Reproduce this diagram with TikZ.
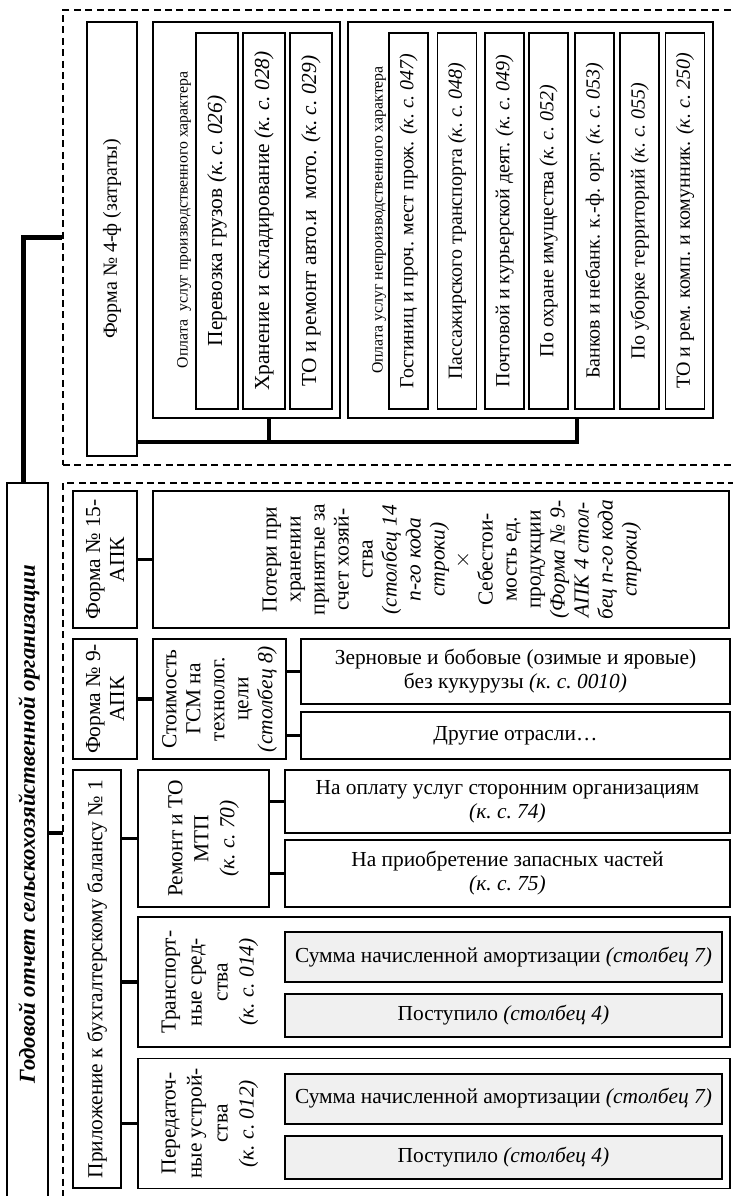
\documentclass[tikz,border=0pt]{standalone}
\usepackage{fontspec}
\setmainfont{Liberation Serif}
\newcommand{\kcode}[1]{\textit{(к.~с.~#1)}}
\tikzset{
  box/.style={draw, line width=0.65pt, align=center, inner sep=1pt, font=\fontsize{10.7}{12}\selectfont},
  vbox/.style={box, rotate=90},
  greybox/.style={box, fill=black!6, line width=1pt},
  groupbox/.style={draw, dash pattern=on 3.5pt off 2.2pt, line width=0.6pt},
  lbl/.style={rotate=90, inner sep=0pt, font=\fontsize{7.9}{9}\selectfont},
  narrow/.style={font=\fontsize{10}{12}\selectfont},
  wide/.style={font=\fontsize{10.7}{13}\selectfont},
  link/.style={line width=1.8pt},
  trunk/.style={line width=2.5pt},
}
\begin{document}
\begin{tikzpicture}[x=0.5pt, y=-0.5pt]
    \clip (0,0) rectangle (733,1196);
    % dashed groups
    \node[groupbox, minimum width=341pt, minimum height=227.5pt] (topgrp) at (404,237.5) {};
    \node[groupbox, minimum width=341pt, minimum height=361pt] (lowgrp) at (404,844) {};
    % main report
    \node[vbox, minimum width=363.5pt, minimum height=20.5pt] (main) at (27.5,846.5) {};
    \node[rotate=90, font=\fontsize{11.4}{13}\selectfont\bfseries\itshape] (title) at (29,824)
        {Годовой отчет сельскохозяйственной организации};
    \coordinate (bend) at (23,237.5);
    \draw[trunk] (bend |- main.east) -- (bend) -- (topgrp.west);
    \coordinate (lowjoin) at (63,833);
    \draw[link] (main.south |- lowjoin) -- (lowjoin);

    % form 4-f
    \node[vbox, narrow, minimum width=217pt, minimum height=25pt] (f4) at (112,239) {Форма № 4-ф (затраты)};
    \node[vbox, minimum width=198pt, minimum height=93.5pt, line width=0.8pt] (prod) at (246.5,220) {};
    \node[lbl] (prodlbl) at (184,220) {Оплата~~услуг производственного характера};
    \foreach \cx/\txt [count=\k] in {
        217/{Перевозка грузов \kcode{026}},
        264/{Хранение и складирование \kcode{028}},
        311/{ТО и ремонт авто.и~~мото. \kcode{029}}}
    {
        \node[vbox, minimum width=188pt, minimum height=21pt] (p\k) at (\cx,221) {\txt};
    }
    \node[vbox, minimum width=198pt, minimum height=182.5pt, line width=0.8pt] (nonprod) at (530.5,220) {};
    \node[lbl] (nonprodlbl) at (379,220) {Оплата услуг непроизводственного характера};
    \foreach \cx/\txt [count=\k] in {
        408.5/{Гостиниц и проч. мест прож. \kcode{047}},
        457/{Пассажирского транспорта \kcode{048}},
        504.5/{Почтовой и курьерской деят. \kcode{049}},
        548.5/{По охране имущества \kcode{052}},
        594.5/{Банков и небанк. к.-ф. орг. \kcode{053}},
        639.5/{По уборке территорий \kcode{055}},
        685/{ТО и рем. комп. и комунник. \kcode{250}}}
    {
        \node[vbox, narrow, minimum width=188pt, minimum height=19.5pt] (np\k) at (\cx,221) {\txt};
    }
    \coordinate (bus1) at (269,442);
    \coordinate (bus2) at (577,442);
    \draw[link] (f4.south |- bus1) -- (bus2) -- (bus2 |- nonprod.west);
    \draw[link] (bus1) -- (bus1 |- prod.west);

    % form 15-APK
    \node[vbox, minimum width=68.5pt, minimum height=32pt] (f15) at (105,559.5) {Форма № 15-\\АПК};
    \node[vbox, minimum width=68.5pt, minimum height=288pt] (loss) at (441,559.5) {};
    \node[vbox, draw=none] (losslbl) at (452,559.5)
        {Потери при\\хранении\\принятые за\\счет хозяй-\\ства\\\textit{(столбец 14}\\\textit{n-го кода}\\\textit{строки)}\\$\times$\\
         Себестои-\\мость ед.\\продукции\\\textit{(Форма № 9-}\\\textit{АПК 4 стол-}\\\textit{бец n-го кода}\\\textit{строки)}};
    \draw[link] (f15.south) -- (loss.north);

    % form 9-APK
    \node[vbox, minimum width=60pt, minimum height=32pt] (f9) at (105,699) {Форма № 9-\\АПК};
    \node[vbox, minimum width=60pt, minimum height=66.5pt] (gsm) at (219.5,699)
        {Стоимость\\ГСМ на\\технолог.\\цели\\\textit{(столбец 8)}};
    \draw[link] (f9.south) -- (gsm.north);
    \node[box, minimum width=214.5pt, minimum height=32.5pt] (grain) at (515.5,671.5)
        {Зерновые и бобовые (озимые и яровые)\\без кукурузы \kcode{0010}};
    \node[box, minimum width=214.5pt, minimum height=23.5pt] (other) at (515.5,735.5) {Другие отрасли…};
    \draw[link] (gsm.south |- grain.west) -- (grain.west);
    \draw[link] (gsm.south |- other.west) -- (other.west);

    % balance appendix
    \node[vbox, minimum width=209pt, minimum height=24pt] (app) at (97,979) {Приложение к бухгалтерскому балансу № 1};
    \node[vbox, wide, minimum width=68.5pt, minimum height=65.5pt] (rep) at (203.5,838.5) {Ремонт и ТО\\МТП\\\kcode{70}};
    \node[box, minimum width=222.5pt, minimum height=31.5pt] (pay) at (507.5,801.5)
        {На оплату услуг сторонним организациям\\\kcode{74}};
    \node[box, minimum width=222.5pt, minimum height=33.5pt] (parts) at (507.5,873.5)
        {На приобретение запасных частей\\\kcode{75}};
    \draw[link] (app.south |- rep.north) -- (rep.north);
    \draw[link] (rep.south |- pay.west) -- (pay.west);
    \draw[link] (rep.south |- parts.west) -- (parts.west);
    \foreach \nm/\cy/\txt in {
        trans/982/{Транспорт-\\ные сред-\\ства\\\kcode{014}},
        xfer/1123.5/{Передаточ-\\ные устрой-\\ства\\\kcode{012}}}
    {
        \node[box, minimum width=296pt, minimum height=65pt] (\nm) at (434,\cy) {};
        \node[vbox, wide, draw=none] (\nm lbl) at (210,\cy) {\txt};
        \node[greybox, minimum width=218.5pt, minimum height=25pt] (\nm sum) at (503.5,\cy-25)
            {Сумма начисленной амортизации \textit{(столбец 7)}};
        \node[greybox, minimum width=218.5pt, minimum height=21.5pt] (\nm in) at (503.5,\cy+33.5)
            {Поступило \textit{(столбец 4)}};
        \draw[link] (app.south |- \nm.west) -- (\nm.west);
    }
\end{tikzpicture}
\end{document}
